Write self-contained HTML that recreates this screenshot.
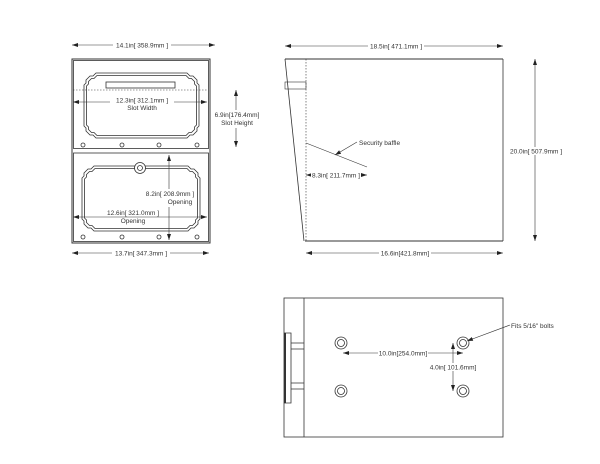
<!DOCTYPE html>
<html><head><meta charset="utf-8"><style>
html,body{margin:0;padding:0;background:#fff;}
svg{display:block;}
text{font-family:"Liberation Sans",sans-serif;font-size:6.5px;fill:#333;}
</style></head><body>
<svg width="600" height="464" viewBox="0 0 600 464" xmlns="http://www.w3.org/2000/svg">
<defs>
<marker id="a" markerWidth="6" markerHeight="4" refX="6" refY="2" orient="auto-start-reverse" markerUnits="userSpaceOnUse"><path d="M0,0 L6,2 L0,4 Z" fill="#222"/></marker>
</defs>
<g fill="none" stroke="#333" stroke-width="0.8">
<!-- FRONT VIEW -->
<rect x="72" y="59" width="138" height="184" stroke-width="1"/>
<rect x="73.5" y="60.5" width="135" height="88"/>
<rect x="73.5" y="153" width="135" height="88.5"/>
<path d="M96 73 H187 L190 76 L193 76 L197 80 V83 L199 85 V126 L197 128 V131 L193 135 L190 135 L187 138 H96 L93 135 L90 135 L86 131 V128 L84 126 V85 L86 83 V80 L90 76 L93 76 Z"/>
<path d="M97 75.5 H186 L189 78.5 L191.5 78.5 L194.5 81.5 V84 L196.5 86 V125 L194.5 127 V129.5 L191.5 132.5 L189 132.5 L186 135.5 H97 L94 132.5 L91.5 132.5 L88.5 129.5 V127 L86.5 125 V86 L88.5 84 V81.5 L91.5 78.5 L94 78.5 Z"/>
<rect x="106" y="82" width="69" height="6"/>
<line x1="73" y1="90" x2="208" y2="90" stroke-dasharray="1.5,1.5" stroke-width="0.6"/>
<path d="M94 166 H188 L191 169 L194 169 L198 173 V176 L200 178 V219 L198 221 V224 L194 228 L191 228 L188 231 H94 L91 228 L88 228 L84 224 V221 L82 219 V178 L84 176 V173 L88 169 L91 169 Z"/>
<path d="M95 168.5 H187 L190 171.5 L192.5 171.5 L195.5 174.5 V177 L197.5 179 V218 L195.5 220 V222.5 L192.5 225.5 L190 225.5 L187 228.5 H95 L92 225.5 L89.5 225.5 L86.5 222.5 V220 L84.5 218 V179 L86.5 177 V174.5 L89.5 171.5 L92 171.5 Z"/>
<circle cx="140" cy="168" r="5.5" fill="#fff"/><circle cx="140" cy="168" r="2.5"/>
<circle cx="83" cy="145" r="2"/><circle cx="122" cy="145" r="2"/><circle cx="159" cy="145" r="2"/><circle cx="197" cy="145" r="2"/>
<circle cx="83" cy="237" r="2"/><circle cx="122" cy="237" r="2"/><circle cx="159" cy="237" r="2"/><circle cx="197" cy="237" r="2"/>
</g>
<g stroke="#333" stroke-width="0.6" fill="none">
<line x1="72" y1="45" x2="215" y2="45" marker-start="url(#a)" marker-end="url(#a)"/>
<line x1="72" y1="253" x2="209" y2="253" marker-start="url(#a)" marker-end="url(#a)"/>
<line x1="236" y1="90" x2="236" y2="147" marker-start="url(#a)" marker-end="url(#a)"/>
<line x1="73" y1="102" x2="207" y2="102" marker-start="url(#a)" marker-end="url(#a)"/>
<line x1="169" y1="155" x2="169" y2="240" marker-start="url(#a)" marker-end="url(#a)"/>
<line x1="73" y1="217" x2="207" y2="217" marker-start="url(#a)" marker-end="url(#a)"/>
</g>
<g>
<rect x="113" y="41" width="58" height="8" fill="#fff"/>
<text x="142" y="47.5" text-anchor="middle">14.1in[ 358.9mm ]</text>
<rect x="112" y="249" width="58" height="8" fill="#fff"/>
<text x="141" y="255.5" text-anchor="middle">13.7in[ 347.3mm ]</text>
<rect x="110" y="97" width="64" height="7" fill="#fff"/>
<text x="142" y="102.5" text-anchor="middle">12.3in[ 312.1mm ]</text>
<text x="142" y="110" text-anchor="middle">Slot Width</text>
<rect x="212" y="110" width="50" height="18" fill="#fff"/>
<text x="237" y="117" text-anchor="middle">6.9in[176.4mm]</text>
<text x="237" y="125" text-anchor="middle">Slot Height</text>
<rect x="142" y="189" width="54" height="18" fill="#fff"/>
<text x="170" y="196" text-anchor="middle">8.2in[ 208.9mm ]</text>
<text x="180" y="204" text-anchor="middle">Opening</text>
<rect x="102" y="209" width="62" height="7" fill="#fff"/>
<text x="133" y="215" text-anchor="middle">12.6in[ 321.0mm ]</text>
<text x="133" y="223" text-anchor="middle">Opening</text>
</g>
<!-- SIDE VIEW -->
<g fill="none" stroke="#333" stroke-width="0.8">
<line x1="285" y1="59" x2="503" y2="59" stroke-width="1"/>
<line x1="503" y1="59" x2="503" y2="241"/>
<line x1="305" y1="241" x2="503" y2="241" stroke-width="1"/>
<line x1="285" y1="59" x2="304" y2="241"/>
<line x1="306" y1="59" x2="306" y2="241" stroke-dasharray="1.5,1.5" stroke-width="0.6"/>
<rect x="285" y="82" width="21" height="7" stroke-width="0.6"/>
<line x1="306" y1="143" x2="367" y2="167" stroke-width="0.6"/>
</g>
<g stroke="#333" stroke-width="0.6" fill="none">
<line x1="357" y1="142" x2="335" y2="155" marker-end="url(#a)"/>
<line x1="285" y1="46" x2="503" y2="46" marker-start="url(#a)" marker-end="url(#a)"/>
<line x1="306" y1="253" x2="503" y2="253" marker-start="url(#a)" marker-end="url(#a)"/>
<line x1="535" y1="59" x2="535" y2="241" marker-start="url(#a)" marker-end="url(#a)"/>
<line x1="306" y1="175" x2="367" y2="175" marker-start="url(#a)" marker-end="url(#a)"/>
</g>
<g>
<text x="359" y="145">Security baffle</text>
<rect x="368" y="42" width="56" height="8" fill="#fff"/>
<text x="396" y="48.5" text-anchor="middle">18.5in[ 471.1mm ]</text>
<rect x="379" y="249" width="52" height="8" fill="#fff"/>
<text x="405" y="255.5" text-anchor="middle">16.6in[421.8mm]</text>
<rect x="509" y="147" width="54" height="8" fill="#fff"/>
<text x="536" y="153.5" text-anchor="middle">20.0in[ 507.9mm ]</text>
<rect x="311" y="171" width="50" height="8" fill="#fff"/>
<text x="312" y="177.5">8.3in[ 211.7mm ]</text>
</g>
<!-- BOTTOM VIEW -->
<g fill="none" stroke="#333" stroke-width="0.8">
<rect x="284" y="298" width="219" height="139"/>
<line x1="304" y1="298" x2="304" y2="437"/>
<path d="M284 333 H291 V343 H304 M291 343 V349 H304 M291 349 V383 H304 M291 383 V389 H304 M284 403 H291 V389"/>
<line x1="285" y1="333" x2="285" y2="403" stroke-width="2"/>
<circle cx="341" cy="343" r="6"/><circle cx="341" cy="343" r="3.5"/>
<circle cx="463" cy="343" r="6"/><circle cx="463" cy="343" r="3.5"/>
<circle cx="341" cy="391" r="6"/><circle cx="341" cy="391" r="3.5"/>
<circle cx="463" cy="391" r="6"/><circle cx="463" cy="391" r="3.5"/>
</g>
<g stroke="#333" stroke-width="0.6" fill="none">
<line x1="343" y1="353" x2="463" y2="353" marker-start="url(#a)" marker-end="url(#a)"/>
<line x1="453" y1="343" x2="453" y2="391" marker-start="url(#a)" marker-end="url(#a)"/>
<line x1="510" y1="325" x2="467" y2="341" marker-end="url(#a)"/>
</g>
<g>
<rect x="378" y="349" width="50" height="8" fill="#fff"/>
<text x="403" y="355.5" text-anchor="middle">10.0in[254.0mm]</text>
<rect x="430" y="363" width="46" height="8" fill="#fff"/>
<text x="453" y="369.5" text-anchor="middle">4.0in[ 101.6mm]</text>
<text x="511" y="328">Fits 5/16" bolts</text>
</g>
</svg>
</body></html>
